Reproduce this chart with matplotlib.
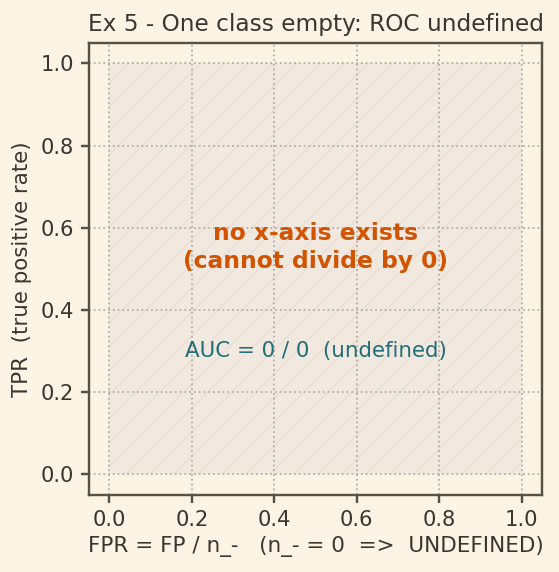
import matplotlib
matplotlib.use("Agg")
import matplotlib.pyplot as plt
from matplotlib.patches import Rectangle

# Chart content
title = "Ex 5 - One class empty: ROC undefined"
xlabel = "FPR = FP / n_-   (n_- = 0  =>  UNDEFINED)"
ylabel = "TPR  (true positive rate)"
msg_main = "no x-axis exists\n(cannot divide by 0)"
msg_auc = "AUC = 0 / 0  (undefined)"
ticks = [0.0, 0.2, 0.4, 0.6, 0.8, 1.0]
limits = (-0.05, 1.05)
region = (0.0, 0.0, 1.0, 1.0)  # x, y, width, height of the undefined square

bg = "#fbf3e4"
ink = "#3a3530"

plt.rcParams.update({"font.family": "DejaVu Sans", "font.size": 10})
plt.rcParams["hatch.color"] = "#eadfd5"
plt.rcParams["hatch.linewidth"] = 0.8
fig = plt.figure(figsize=(559 / 144, 572 / 144), dpi=144, facecolor=bg)
ax = fig.add_axes([0.159, 0.135, 0.811, 0.790])
ax.set_facecolor(bg)

ax.add_patch(Rectangle(region[:2], region[2], region[3], facecolor="#f1e8df",
                       hatch="//", linewidth=0, zorder=0))

ax.text(0.5, 0.552, msg_main, ha="center", va="center", fontsize=11.7,
        fontweight="bold", color="#d35400", linespacing=1.25)
ax.text(0.5, 0.30, msg_auc, ha="center", va="center", fontsize=10.7,
        color="#1f6e7a")

ax.set_xlim(limits)
ax.set_ylim(limits)
ax.set_xticks(ticks)
ax.set_yticks(ticks)
ax.grid(True, linestyle=":", color="#b5ada3", linewidth=0.9)
ax.set_axisbelow(True)
for s in ax.spines.values():
    s.set_color("#5a5040")
    s.set_linewidth(1.2)
ax.tick_params(colors="#5a5040", labelcolor=ink, labelsize=10.5, length=4, width=1.2)
ax.set_title(title, color=ink, fontsize=11.6, pad=6)
ax.set_xlabel(xlabel, color=ink, fontsize=10.75, labelpad=3)
ax.set_ylabel(ylabel, color=ink, fontsize=10.7)

fig.savefig("out.png", dpi=144, facecolor=bg)
